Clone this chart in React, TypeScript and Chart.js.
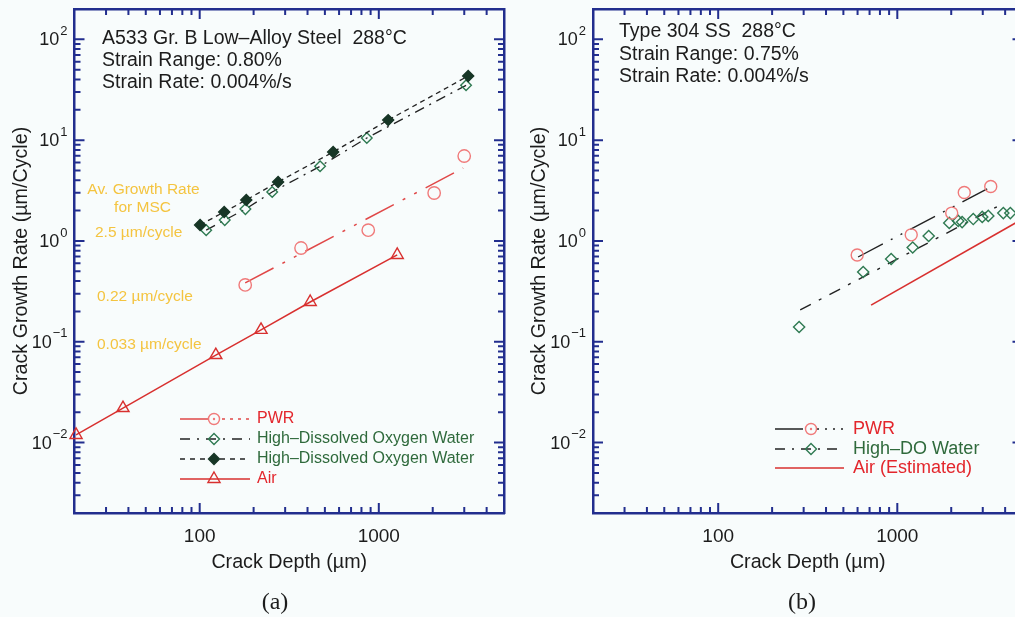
import React, { useEffect, useRef } from 'react';
import { Chart, registerables } from 'chart.js';

Chart.register(...registerables);

// ---------------- Panel (a): A533 Gr. B low-alloy steel ----------------
const aInfoLines = ['A533 Gr. B Low–Alloy Steel  288°C', 'Strain Range: 0.80%', 'Strain Rate: 0.004%/s'];
const aPwrDepth = [179.5, 368, 873, 2037, 2998];
const aPwrRate = [0.366, 0.851, 1.28, 2.99, 6.96];
const aPwrFitDepth = [179.5, 2958];
const aPwrFitRate = [0.383, 5.29];
const aHdoOpenDepth = [108.7, 138, 180, 254, 470, 857, 3070];
const aHdoOpenRate = [1.28, 1.61, 2.07, 3.06, 5.5, 10.5, 35];
const aHdoFilledDepth = [100.5, 137, 182, 274, 556, 1128, 3155];
const aHdoFilledRate = [1.44, 1.94, 2.55, 3.85, 7.63, 15.8, 43.3];
const aAirDepth = [20.4, 37.3, 123, 220, 414, 1267];
const aAirRate = [0.0119, 0.022, 0.0738, 0.131, 0.248, 0.726];
const aLegendLabels = ['PWR', 'High–Dissolved Oxygen Water', 'High–Dissolved Oxygen Water', 'Air'];
const aMscLabels = ['Av. Growth Rate', 'for MSC', '2.5 µm/cycle', '0.22 µm/cycle', '0.033 µm/cycle'];

// ---------------- Panel (b): Type 304 SS ----------------
const bInfoLines = ['Type 304 SS  288°C', 'Strain Range: 0.75%', 'Strain Rate: 0.004%/s'];
const bPwrDepth = [597, 1196, 2013, 2365, 3324];
const bPwrRate = [0.726, 1.15, 1.89, 3.02, 3.47];
const bPwrFitDepth = [604, 3320];
const bPwrFitRate = [0.693, 3.43];
const bHdoDepth = [283, 645, 924, 1219, 1497, 1950, 2188, 2301, 2655, 2980, 3220, 3908, 4276];
const bHdoRate = [0.14, 0.492, 0.662, 0.861, 1.12, 1.51, 1.58, 1.54, 1.65, 1.73, 1.77, 1.89, 1.89];
const bHdoFitDepth = [287, 3757];
const bHdoFitRate = [0.207, 2.27];
const bAirDepth = [714, 5000];
const bAirRate = [0.231, 1.65];
const bLegendLabels = ['PWR', 'High–DO Water', 'Air (Estimated)'];

// ---------------- Axes ----------------
const depthRange = [20, 5000];
const rateRange = [0.002, 200];
const xTickValues = [100, 1000];
const xTickLabels = ['100', '1000'];
const yTickExponents = [-2, -1, 0, 1, 2];
const xAxisTitle = 'Crack Depth (µm)';
const yAxisTitle = 'Crack Growth Rate (µm/Cycle)';
const panelLabels = ['(a)', '(b)'];

// ---------------- Styles ----------------
const BG = '#f8fcfc';
const AXIS = '#222e8e';
const INK = '#1c1c1c';
const RED = '#e3262c';
const PWR_LINE = '#e04848';
const PINK = '#f07a7a';
const GREEN_TXT = '#2f6a3c';
const GREEN_MK = '#2f7a52';
const DARK = '#173626';
const AIR = '#d8302f';
const YELLOW = '#f4c440';
const BLACK_LINE = '#222222';
const SANS = '"Liberation Sans", Arial, Helvetica, sans-serif';
const SERIF = '"Liberation Serif", "Times New Roman", serif';

Chart.defaults.font.family = SANS;

type Pt = { x: number; y: number };
const pts = (xs: number[], ys: number[]): Pt[] => xs.map((x, i) => ({ x, y: ys[i] }));

function markerSet(data: Pt[], style: string, r: number, stroke: string, fill: string, extra: any = {}) {
  return {
    data,
    showLine: false,
    pointStyle: style,
    pointRadius: r,
    pointHoverRadius: r,
    pointBorderColor: stroke,
    pointBackgroundColor: fill,
    pointBorderWidth: 1.4,
    borderColor: stroke,
    backgroundColor: fill,
    clip: false,
    ...extra,
  };
}
function lineSet(data: Pt[], color: string, width: number, dash: number[]) {
  return {
    data,
    showLine: true,
    pointRadius: 0,
    pointHoverRadius: 0,
    borderColor: color,
    backgroundColor: color,
    borderWidth: width,
    borderDash: dash,
    fill: false,
    tension: 0,
    clip: false,
  };
}

type Kind = 'circle' | 'diamond' | 'diamondFilled' | 'triangle' | 'none';
type Txt = { text: string; x: number; y: number; color: string; font: string; align: CanvasTextAlign };
type LegendRow = {
  label: string; textColor: string; lineColor: string; dash: number[]; lineWidth: number;
  marker: Kind; markerColor: string; markerFill: string; markerR: number; centerDot?: boolean;
};
type Spec = {
  key: string;
  padding: { left: number; top: number; right: number; bottom: number };
  datasets: any[];
  texts: Txt[];
  legend: { rows: LegendRow[]; x0: number; x1: number; xm: number; xt: number; ys: number[]; font: string };
  yTitleX: number; xTitleY: number; xTickY: number;
  panelLabel: string; panelLabelX: number; panelLabelY: number;
};

function drawMarker(ctx: CanvasRenderingContext2D, kind: Kind, x: number, y: number, r: number, stroke: string, fill: string, centerDot?: boolean) {
  if (kind === 'none') return;
  ctx.save();
  ctx.setLineDash([]);
  ctx.lineWidth = 1.4;
  ctx.strokeStyle = stroke;
  ctx.fillStyle = fill;
  ctx.beginPath();
  if (kind === 'circle') {
    ctx.arc(x, y, r, 0, Math.PI * 2);
  } else if (kind === 'diamond' || kind === 'diamondFilled') {
    ctx.moveTo(x, y - r); ctx.lineTo(x + r, y); ctx.lineTo(x, y + r); ctx.lineTo(x - r, y); ctx.closePath();
  } else if (kind === 'triangle') {
    const s = Math.sin(Math.PI / 3) * r;
    ctx.moveTo(x, y - r); ctx.lineTo(x + s, y + r / 2); ctx.lineTo(x - s, y + r / 2); ctx.closePath();
  }
  if (fill !== 'transparent') ctx.fill();
  ctx.stroke();
  if (centerDot) {
    ctx.beginPath();
    ctx.fillStyle = stroke;
    ctx.arc(x, y, 1.2, 0, Math.PI * 2);
    ctx.fill();
  }
  ctx.restore();
}

function logTicks(range: number[]) {
  const out: { v: number; major: boolean }[] = [];
  const e0 = Math.floor(Math.log10(range[0]));
  const e1 = Math.ceil(Math.log10(range[1]));
  for (let e = e0; e <= e1; e++) {
    for (let m = 1; m <= 9; m++) {
      const v = m * Math.pow(10, e);
      if (v > range[0] * 1.001 && v < range[1] * 0.999) out.push({ v, major: m === 1 });
    }
  }
  return out;
}

function makeDecor(spec: Spec) {
  return {
    id: 'decor_' + spec.key,
    afterDraw(chart: any) {
      const ctx: CanvasRenderingContext2D = chart.ctx;
      const area = chart.chartArea;
      const xs = chart.scales.x;
      const ys = chart.scales.y;
      ctx.save();

      // inward tick marks on all four sides
      ctx.strokeStyle = AXIS;
      ctx.lineWidth = 2;
      ctx.setLineDash([]);
      ctx.beginPath();
      logTicks(depthRange).forEach(({ v, major }) => {
        const px = xs.getPixelForValue(v);
        const len = major ? 10 : 6;
        ctx.moveTo(px, area.bottom); ctx.lineTo(px, area.bottom - len);
        ctx.moveTo(px, area.top); ctx.lineTo(px, area.top + len);
      });
      logTicks(rateRange).forEach(({ v, major }) => {
        const py = ys.getPixelForValue(v);
        const len = major ? 10 : 6;
        ctx.moveTo(area.left, py); ctx.lineTo(area.left + len, py);
        ctx.moveTo(area.right, py); ctx.lineTo(area.right - len, py);
      });
      ctx.stroke();

      // tick labels
      ctx.fillStyle = INK;
      ctx.textBaseline = 'middle';
      ctx.font = `19px ${SANS}`;
      ctx.textAlign = 'center';
      xTickValues.forEach((v, i) => ctx.fillText(xTickLabels[i], xs.getPixelForValue(v), spec.xTickY));
      yTickExponents.forEach((e) => {
        const py = ys.getPixelForValue(Math.pow(10, e));
        const sup = e < 0 ? '−' + Math.abs(e) : String(e);
        ctx.font = `13px ${SANS}`;
        ctx.textAlign = 'right';
        const supRight = area.left - 7;
        const w = ctx.measureText(sup).width;
        ctx.fillText(sup, supRight, py - 8);
        ctx.font = `18px ${SANS}`;
        ctx.fillText('10', supRight - w - 1, py + 1);
      });

      // axis titles
      ctx.font = `19.7px ${SANS}`;
      ctx.textAlign = 'center';
      ctx.fillText(xAxisTitle, (area.left + area.right) / 2, spec.xTitleY);
      ctx.save();
      ctx.translate(spec.yTitleX, (area.top + area.bottom) / 2);
      ctx.rotate(-Math.PI / 2);
      ctx.fillText(yAxisTitle, 0, 0);
      ctx.restore();

      // free texts
      spec.texts.forEach((t) => {
        ctx.font = t.font;
        ctx.fillStyle = t.color;
        ctx.textAlign = t.align;
        ctx.fillText(t.text, t.x, t.y);
      });

      // legend
      const lg = spec.legend;
      lg.rows.forEach((row, i) => {
        const y = lg.ys[i];
        ctx.save();
        ctx.strokeStyle = row.lineColor;
        ctx.lineWidth = row.lineWidth;
        ctx.setLineDash(row.dash);
        ctx.beginPath();
        ctx.moveTo(lg.x0, y);
        ctx.lineTo(lg.x1, y);
        ctx.stroke();
        ctx.restore();
        drawMarker(ctx, row.marker, lg.xm, y, row.markerR, row.markerColor, row.markerFill, row.centerDot);
        ctx.font = lg.font;
        ctx.fillStyle = row.textColor;
        ctx.textAlign = 'left';
        ctx.textBaseline = 'middle';
        ctx.fillText(row.label, lg.xt, y);
      });

      // panel label
      ctx.font = `24px ${SERIF}`;
      ctx.fillStyle = INK;
      ctx.textAlign = 'center';
      ctx.fillText(spec.panelLabel, spec.panelLabelX, spec.panelLabelY);

      ctx.restore();
    },
  };
}

function infoTexts(lines: string[], x: number, y0: number, dy: number): Txt[] {
  return lines.map((text, i) => ({ text, x, y: y0 + i * dy, color: INK, font: `19.5px ${SANS}`, align: 'left' as CanvasTextAlign }));
}

function specA(): Spec {
  const yf = `15.5px ${SANS}`;
  const msc: Txt[] = [
    { text: aMscLabels[0], x: 143.5, y: 190, color: YELLOW, font: yf, align: 'center' },
    { text: aMscLabels[1], x: 142.5, y: 208, color: YELLOW, font: yf, align: 'center' },
    { text: aMscLabels[2], x: 95, y: 233, color: YELLOW, font: yf, align: 'left' },
    { text: aMscLabels[3], x: 97, y: 297, color: YELLOW, font: yf, align: 'left' },
    { text: aMscLabels[4], x: 97, y: 345, color: YELLOW, font: yf, align: 'left' },
  ];
  return {
    key: 'a',
    padding: { left: 74.5, top: 9, right: 56, bottom: 104 },
    datasets: [
      markerSet(pts(aPwrDepth, aPwrRate), 'circle', 6.2, PINK, 'transparent'),
      markerSet(pts(aHdoFilledDepth, aHdoFilledRate), 'rectRot', 5.5, DARK, DARK, {
        showLine: true, borderColor: BLACK_LINE, borderWidth: 1.3, borderDash: [5, 4], tension: 0,
      }),
      markerSet(pts(aHdoOpenDepth, aHdoOpenRate), 'rectRot', 5.3, GREEN_MK, 'transparent', {
        showLine: true, borderColor: BLACK_LINE, borderWidth: 1.3, borderDash: [10, 6, 2, 6], tension: 0,
      }),
      markerSet(pts(aAirDepth, aAirRate), 'triangle', 7, AIR, 'transparent', {
        showLine: true, borderColor: AIR, borderWidth: 1.5, tension: 0,
      }),
      lineSet(pts(aPwrFitDepth, aPwrFitRate), PWR_LINE, 1.5, [32, 10, 3, 10, 3, 10]),
    ],
    texts: [...infoTexts(aInfoLines, 102, 39, 22), ...msc],
    legend: {
      x0: 180, x1: 250, xm: 214, xt: 257, ys: [419, 439, 459, 479], font: `16px ${SANS}`,
      rows: [
        { label: aLegendLabels[0], textColor: RED, lineColor: PWR_LINE, dash: [28, 14, 3, 5, 3, 5, 3, 5, 3, 5], lineWidth: 1.4, marker: 'circle', markerColor: PINK, markerFill: 'transparent', markerR: 5.5, centerDot: true },
        { label: aLegendLabels[1], textColor: GREEN_TXT, lineColor: BLACK_LINE, dash: [10, 7, 2, 7], lineWidth: 1.3, marker: 'diamond', markerColor: GREEN_MK, markerFill: 'transparent', markerR: 5.5 },
        { label: aLegendLabels[2], textColor: GREEN_TXT, lineColor: BLACK_LINE, dash: [5, 5], lineWidth: 1.3, marker: 'diamondFilled', markerColor: DARK, markerFill: DARK, markerR: 5.5 },
        { label: aLegendLabels[3], textColor: RED, lineColor: AIR, dash: [], lineWidth: 1.5, marker: 'triangle', markerColor: AIR, markerFill: 'transparent', markerR: 7 },
      ],
    },
    yTitleX: 21.5, xTitleY: 563, xTickY: 537,
    panelLabel: panelLabels[0], panelLabelX: 275, panelLabelY: 603,
  };
}

function specB(): Spec {
  return {
    key: 'b',
    padding: { left: 93, top: 9, right: 37.5, bottom: 104 },
    datasets: [
      markerSet(pts(bPwrDepth, bPwrRate), 'circle', 6, PINK, 'transparent'),
      markerSet(pts(bHdoDepth, bHdoRate), 'rectRot', 5.6, GREEN_MK, 'transparent'),
      lineSet(pts(bPwrFitDepth, bPwrFitRate), BLACK_LINE, 1.4, [28, 9, 2, 9, 2, 9]),
      lineSet(pts(bHdoFitDepth, bHdoFitRate), BLACK_LINE, 1.4, [12, 9, 3, 9]),
      lineSet(pts(bAirDepth, bAirRate), AIR, 1.6, []),
    ],
    texts: infoTexts(bInfoLines, 119, 32, 22.5),
    legend: {
      x0: 275, x1: 344, xm: 311, xt: 353, ys: [429, 449, 468], font: `18px ${SANS}`,
      rows: [
        { label: bLegendLabels[0], textColor: RED, lineColor: BLACK_LINE, dash: [28, 14, 2, 6, 2, 6, 2, 6, 2, 6], lineWidth: 1.3, marker: 'circle', markerColor: PINK, markerFill: 'transparent', markerR: 5.5, centerDot: true },
        { label: bLegendLabels[1], textColor: GREEN_TXT, lineColor: BLACK_LINE, dash: [10, 7, 2, 7], lineWidth: 1.3, marker: 'diamond', markerColor: GREEN_MK, markerFill: 'transparent', markerR: 5.5 },
        { label: bLegendLabels[2], textColor: RED, lineColor: AIR, dash: [], lineWidth: 1.6, marker: 'none', markerColor: AIR, markerFill: 'transparent', markerR: 0 },
      ],
    },
    yTitleX: 39.5, xTitleY: 563, xTickY: 537,
    panelLabel: panelLabels[1], panelLabelX: 302, panelLabelY: 603,
  };
}

function makeChart(canvas: HTMLCanvasElement, spec: Spec) {
  const axis = (pos: string, range: number[]) => ({
    type: 'logarithmic',
    position: pos,
    display: true,
    bounds: 'data',
    min: range[0],
    max: range[1],
    grid: { display: false, drawTicks: false, tickLength: 0 },
    border: { display: true, color: AXIS, width: 2.5 },
    ticks: { display: false },
    title: { display: false },
  });
  return new Chart(canvas, {
    type: 'line',
    data: { datasets: spec.datasets },
    options: {
      animation: false,
      responsive: false,
      maintainAspectRatio: false,
      devicePixelRatio: 1,
      events: [],
      layout: { padding: spec.padding },
      scales: {
        x: axis('bottom', depthRange),
        x2: axis('top', depthRange),
        y: axis('left', rateRange),
        y2: axis('right', rateRange),
      } as any,
      plugins: { legend: { display: false }, tooltip: { enabled: false } },
    },
    plugins: [makeDecor(spec) as any],
  } as any);
}

export default function App() {
  const refA = useRef<HTMLCanvasElement>(null);
  const refB = useRef<HTMLCanvasElement>(null);
  useEffect(() => {
    const charts = [makeChart(refA.current!, specA()), makeChart(refB.current!, specB())];
    return () => charts.forEach((c) => c.destroy());
  }, []);
  return (
    <div style={{ position: 'fixed', left: 0, top: 0, width: 1015, height: 617, overflow: 'hidden', background: BG }}>
      <canvas ref={refA} width={560} height={617} style={{ position: 'absolute', left: 0, top: 0, width: 560, height: 617 }} />
      <canvas ref={refB} width={560} height={617} style={{ position: 'absolute', left: 500, top: 0, width: 560, height: 617 }} />
    </div>
  );
}
